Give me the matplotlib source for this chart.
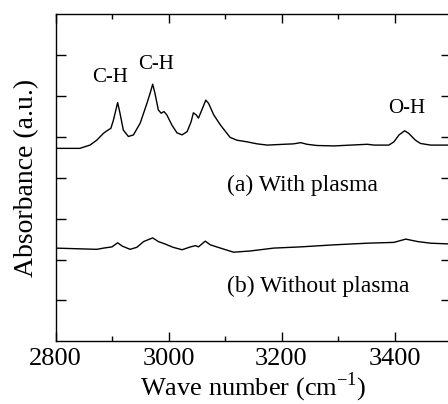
import matplotlib
matplotlib.use("Agg")
import matplotlib.pyplot as plt

plt.rcParams['font.family'] = ['Liberation Serif', 'DejaVu Serif']
plt.rcParams['mathtext.fontset'] = 'custom'
plt.rcParams['mathtext.rm'] = 'Liberation Serif'

# Spectrum (a) With plasma
wave_a = [2800, 2843, 2861, 2873, 2885, 2891, 2898, 2902.5, 2910, 2914, 2920, 2929,
          2938, 2950, 2962, 2967.5, 2972, 2976, 2982, 2987, 2992, 2997, 3006, 3015,
          3024, 3033, 3040, 3044, 3049, 3053, 3059, 3066, 3071, 3080, 3092, 3101,
          3109, 3121, 3139, 3157, 3175, 3204, 3221, 3234, 3245, 3263, 3293, 3322,
          3352, 3364, 3390, 3399, 3408, 3418, 3425, 3437, 3446, 3464, 3500]
abs_a = [4.72, 4.72, 4.80, 4.92, 5.09, 5.15, 5.21, 5.41, 5.84, 5.59, 5.17, 5.01,
         5.05, 5.34, 5.83, 6.07, 6.29, 6.07, 5.66, 5.58, 5.62, 5.54, 5.29, 5.10,
         5.05, 5.13, 5.37, 5.59, 5.54, 5.46, 5.66, 5.90, 5.82, 5.54, 5.29, 5.13,
         4.99, 4.92, 4.88, 4.83, 4.80, 4.82, 4.83, 4.86, 4.82, 4.79, 4.78, 4.80,
         4.82, 4.80, 4.80, 4.88, 5.05, 5.15, 5.09, 4.92, 4.84, 4.80, 4.80]

# Spectrum (b) Without plasma
wave_b = [2800, 2873, 2885, 2900, 2910, 2918, 2932, 2944, 2956, 2972, 2982, 2994,
          3008, 3024, 3039, 3048, 3053, 3065, 3074, 3092, 3115, 3145, 3186, 3234,
          3293, 3352, 3399, 3420, 3441, 3464, 3500]
abs_b = [2.28, 2.25, 2.28, 2.31, 2.41, 2.33, 2.25, 2.30, 2.44, 2.53, 2.44, 2.38,
         2.30, 2.24, 2.31, 2.34, 2.31, 2.45, 2.36, 2.28, 2.18, 2.21, 2.28, 2.31,
         2.36, 2.40, 2.42, 2.50, 2.44, 2.40, 2.38]

x_major = [2800, 3000, 3200, 3400]
x_minor = [2900, 3100, 3300, 3500]
y_ticks = [1, 2, 3, 4, 5, 6, 7]

fig = plt.figure(figsize=(4.48, 4.04), dpi=100)
ax = fig.add_axes([55.5/448, 62.7/404, (451-55.5)/448, 327/404])

ax.plot(wave_a, abs_a, color='black', lw=1.0)
ax.plot(wave_b, abs_b, color='black', lw=1.0)

ax.set_xlim(2800, 3500)
ax.set_ylim(0, 8)
ax.set_xticks(x_major)
ax.set_xticks(x_minor, minor=True)
ax.set_yticks(y_ticks)
ax.set_yticklabels([])
ax.tick_params(axis='x', which='major', direction='in', length=6.5, width=1.0,
               top=True, labelsize=19, pad=5)
ax.tick_params(axis='x', which='minor', direction='in', length=3.6, width=1.0, top=True)
ax.tick_params(axis='y', which='major', direction='in', length=7.5, width=1.0, right=True)
for s in ax.spines.values():
    s.set_linewidth(1.0)

ax.set_xlabel('Wave number (cm$^{\\mathregular{ -1}}$)', fontsize=19, labelpad=0)
ax.set_ylabel('Absorbance (a.u.)', fontsize=20, labelpad=8)

ax.text(2896, 6.45, 'C-H', fontsize=15, ha='center', va='center')
ax.text(2978, 6.78, 'C-H', fontsize=15, ha='center', va='center')
ax.text(3421, 5.70, 'O-H', fontsize=15, ha='center', va='center')
ax.text(3103.5, 3.82, '(a) With plasma', fontsize=17, ha='left', va='center')
ax.text(3103.5, 1.34, '(b) Without plasma', fontsize=17, ha='left', va='center')

fig.savefig('out.png', dpi=100)
